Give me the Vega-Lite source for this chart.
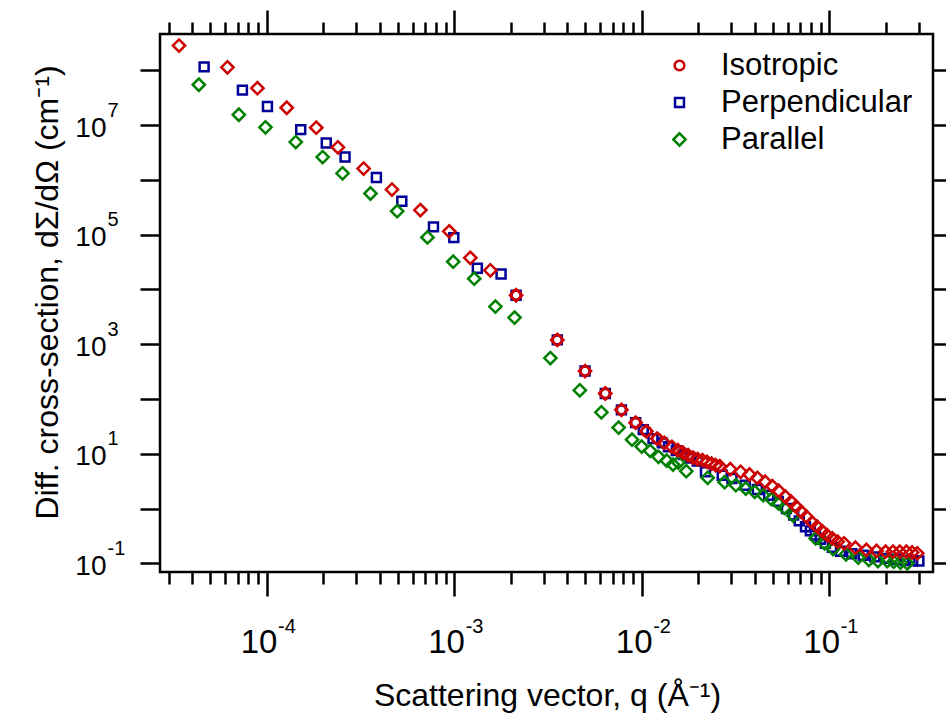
{
  "$schema": "https://vega.github.io/schema/vega-lite/v6.json",
  "width": 773,
  "height": 538,
  "autosize": {"type": "none"},
  "padding": {"left": 160, "top": 34, "right": 13, "bottom": 145},
  "background": "white",
  "config": {
    "view": {"stroke": "black", "strokeWidth": 2.5},
    "font": "Liberation Sans",
    "axis": {"grid": false, "domain": false, "tickColor": "black", "tickWidth": 2.5, "labelColor": "black", "labelFont": "Liberation Sans", "titleFont": "Liberation Sans", "titleColor": "black", "titleFontWeight": "normal", "labelOverlap": false, "labelBound": false, "labelFlush": false}
  },
  "datasets": {
    "main": [
      {"s":"Perpendicular","q":4.64e-5,"I":1.16e8},
      {"s":"Perpendicular","q":7.43e-5,"I":4.36e7},
      {"s":"Perpendicular","q":1.01e-4,"I":2.20e7},
      {"s":"Perpendicular","q":1.52e-4,"I":8.28e6},
      {"s":"Perpendicular","q":2.08e-4,"I":4.72e6},
      {"s":"Perpendicular","q":2.62e-4,"I":2.62e6},
      {"s":"Perpendicular","q":3.85e-4,"I":1.11e6},
      {"s":"Perpendicular","q":5.26e-4,"I":4.09e5},
      {"s":"Perpendicular","q":7.76e-4,"I":1.39e5},
      {"s":"Perpendicular","q":9.96e-4,"I":8.85e4},
      {"s":"Perpendicular","q":1.33e-3,"I":2.43e4},
      {"s":"Perpendicular","q":1.78e-3,"I":1.92e4},
      {"s":"Perpendicular","q":2.14e-3,"I":7840},
      {"s":"Perpendicular","q":3.55e-3,"I":1200},
      {"s":"Perpendicular","q":4.99e-3,"I":324},
      {"s":"Perpendicular","q":6.40e-3,"I":126},
      {"s":"Perpendicular","q":7.80e-3,"I":63.3},
      {"s":"Perpendicular","q":9.29e-3,"I":37.0},
      {"s":"Perpendicular","q":1.02e-2,"I":27.6},
      {"s":"Perpendicular","q":1.15e-2,"I":18.9},
      {"s":"Perpendicular","q":1.29e-2,"I":15.8},
      {"s":"Perpendicular","q":1.39e-2,"I":13.4},
      {"s":"Perpendicular","q":1.53e-2,"I":11.4},
      {"s":"Perpendicular","q":1.67e-2,"I":9.66},
      {"s":"Perpendicular","q":1.82e-2,"I":8.35},
      {"s":"Perpendicular","q":1.98e-2,"I":7.36},
      {"s":"Perpendicular","q":2.19e-2,"I":4.68},
      {"s":"Perpendicular","q":2.69e-2,"I":4.06},
      {"s":"Perpendicular","q":3.03e-2,"I":3.53},
      {"s":"Perpendicular","q":3.57e-2,"I":2.67},
      {"s":"Perpendicular","q":4.14e-2,"I":2.23},
      {"s":"Perpendicular","q":4.76e-2,"I":1.75},
      {"s":"Perpendicular","q":5.36e-2,"I":1.35},
      {"s":"Perpendicular","q":5.92e-2,"I":1.00},
      {"s":"Perpendicular","q":6.47e-2,"I":0.759},
      {"s":"Perpendicular","q":6.93e-2,"I":0.594},
      {"s":"Perpendicular","q":7.48e-2,"I":0.466},
      {"s":"Perpendicular","q":7.94e-2,"I":0.391},
      {"s":"Perpendicular","q":8.45e-2,"I":0.327},
      {"s":"Perpendicular","q":8.97e-2,"I":0.273},
      {"s":"Perpendicular","q":9.55e-2,"I":0.231},
      {"s":"Perpendicular","q":0.104,"I":0.195},
      {"s":"Perpendicular","q":0.115,"I":0.166},
      {"s":"Perpendicular","q":0.132,"I":0.149},
      {"s":"Perpendicular","q":0.152,"I":0.140},
      {"s":"Perpendicular","q":0.175,"I":0.131},
      {"s":"Perpendicular","q":0.200,"I":0.123},
      {"s":"Perpendicular","q":0.226,"I":0.118},
      {"s":"Perpendicular","q":0.255,"I":0.113},
      {"s":"Perpendicular","q":0.279,"I":0.111},
      {"s":"Perpendicular","q":0.301,"I":0.110},
      {"s":"Parallel","q":4.35e-5,"I":5.47e7},
      {"s":"Parallel","q":7.11e-5,"I":1.55e7},
      {"s":"Parallel","q":9.86e-5,"I":9.12e6},
      {"s":"Parallel","q":1.43e-4,"I":4.92e6},
      {"s":"Parallel","q":1.99e-4,"I":2.62e6},
      {"s":"Parallel","q":2.54e-4,"I":1.32e6},
      {"s":"Parallel","q":3.58e-4,"I":5.65e5},
      {"s":"Parallel","q":4.97e-4,"I":2.69e5},
      {"s":"Parallel","q":7.21e-4,"I":8.93e4},
      {"s":"Parallel","q":9.89e-4,"I":3.21e4},
      {"s":"Parallel","q":1.28e-3,"I":1.57e4},
      {"s":"Parallel","q":1.66e-3,"I":4860},
      {"s":"Parallel","q":2.10e-3,"I":3060},
      {"s":"Parallel","q":3.26e-3,"I":558},
      {"s":"Parallel","q":4.68e-3,"I":144},
      {"s":"Parallel","q":6.10e-3,"I":57.0},
      {"s":"Parallel","q":7.54e-3,"I":30.0},
      {"s":"Parallel","q":8.89e-3,"I":18.1},
      {"s":"Parallel","q":1.00e-2,"I":13.5},
      {"s":"Parallel","q":1.11e-2,"I":11.3},
      {"s":"Parallel","q":1.23e-2,"I":8.78},
      {"s":"Parallel","q":1.36e-2,"I":7.52},
      {"s":"Parallel","q":1.47e-2,"I":6.35},
      {"s":"Parallel","q":1.57e-2,"I":6.92},
      {"s":"Parallel","q":1.73e-2,"I":4.80},
      {"s":"Parallel","q":2.25e-2,"I":3.64},
      {"s":"Parallel","q":2.77e-2,"I":3.03},
      {"s":"Parallel","q":3.18e-2,"I":2.67},
      {"s":"Parallel","q":3.59e-2,"I":2.32},
      {"s":"Parallel","q":4.01e-2,"I":2.02},
      {"s":"Parallel","q":4.45e-2,"I":1.75},
      {"s":"Parallel","q":4.92e-2,"I":1.48},
      {"s":"Parallel","q":5.36e-2,"I":1.24},
      {"s":"Parallel","q":5.77e-2,"I":1.03},
      {"s":"Parallel","q":6.43e-2,"I":0.740},
      {"s":"Parallel","q":8.47e-2,"I":0.285},
      {"s":"Parallel","q":9.45e-2,"I":0.231},
      {"s":"Parallel","q":0.105,"I":0.182},
      {"s":"Parallel","q":0.123,"I":0.146},
      {"s":"Parallel","q":0.143,"I":0.127},
      {"s":"Parallel","q":0.163,"I":0.115},
      {"s":"Parallel","q":0.182,"I":0.110},
      {"s":"Parallel","q":0.204,"I":0.110},
      {"s":"Parallel","q":0.221,"I":0.107},
      {"s":"Parallel","q":0.240,"I":0.103},
      {"s":"Parallel","q":0.261,"I":0.100},
      {"s":"Isotropic","q":2.14e-3,"I":7840},
      {"s":"Isotropic","q":3.55e-3,"I":1200},
      {"s":"Isotropic","q":4.99e-3,"I":324},
      {"s":"Isotropic","q":6.40e-3,"I":126},
      {"s":"Isotropic","q":7.80e-3,"I":63.3},
      {"s":"Isotropic","q":9.29e-3,"I":37.0},
      {"s":"Isotropic","q":1.06e-2,"I":25.7},
      {"s":"Isotropic","q":1.21e-2,"I":18.9}
    ],
    "red": [
      {"q":3.41e-5,"I":2.84e8},
      {"q":6.18e-5,"I":1.14e8},
      {"q":8.93e-5,"I":4.74e7},
      {"q":1.28e-4,"I":2.08e7},
      {"q":1.84e-4,"I":9.0e6},
      {"q":2.40e-4,"I":3.94e6},
      {"q":3.29e-4,"I":1.61e6},
      {"q":4.66e-4,"I":6.68e5},
      {"q":6.61e-4,"I":2.81e5},
      {"q":9.42e-4,"I":1.15e5},
      {"q":1.22e-3,"I":3.79e4},
      {"q":1.56e-3,"I":2.24e4},
      {"q":2.14e-3,"I":7840},
      {"q":3.55e-3,"I":1200},
      {"q":4.99e-3,"I":324},
      {"q":6.40e-3,"I":126},
      {"q":7.80e-3,"I":63.3},
      {"q":9.29e-3,"I":37.0},
      {"q":1.06e-2,"I":25.7},
      {"q":1.21e-2,"I":18.9},
      {"q":1.32e-2,"I":15.8},
      {"q":1.45e-2,"I":13.4},
      {"q":1.56e-2,"I":11.6},
      {"q":1.66e-2,"I":10.5},
      {"q":1.77e-2,"I":9.39},
      {"q":1.88e-2,"I":8.53},
      {"q":1.99e-2,"I":7.94},
      {"q":2.11e-2,"I":7.62},
      {"q":2.23e-2,"I":7.12},
      {"q":2.36e-2,"I":6.62},
      {"q":2.48e-2,"I":6.18},
      {"q":2.61e-2,"I":5.92},
      {"q":2.97e-2,"I":5.22},
      {"q":3.37e-2,"I":4.68},
      {"q":3.76e-2,"I":4.18},
      {"q":4.14e-2,"I":3.64},
      {"q":4.55e-2,"I":3.08},
      {"q":4.98e-2,"I":2.56},
      {"q":5.38e-2,"I":2.11},
      {"q":5.85e-2,"I":1.64},
      {"q":6.27e-2,"I":1.33},
      {"q":6.67e-2,"I":1.08},
      {"q":7.10e-2,"I":0.875},
      {"q":7.57e-2,"I":0.710},
      {"q":8.11e-2,"I":0.558},
      {"q":8.63e-2,"I":0.466},
      {"q":9.18e-2,"I":0.388},
      {"q":9.75e-2,"I":0.327},
      {"q":0.104,"I":0.285},
      {"q":0.111,"I":0.248},
      {"q":0.120,"I":0.231},
      {"q":0.138,"I":0.193},
      {"q":0.158,"I":0.175},
      {"q":0.179,"I":0.168},
      {"q":0.200,"I":0.163},
      {"q":0.219,"I":0.163},
      {"q":0.238,"I":0.163},
      {"q":0.258,"I":0.163},
      {"q":0.277,"I":0.158},
      {"q":0.295,"I":0.152}
    ]
  },
  "resolve": {"axis": {"x": "independent", "y": "independent"}},
  "layer": [
    {
      "data": {"name": "main"},
      "mark": {"type": "point", "filled": false, "strokeWidth": 2.5, "opacity": 1},
      "encoding": {
        "x": {"field": "q", "type": "quantitative", "scale": {"type": "log", "domain": [2.7e-5, 0.358], "nice": false},
              "axis": {"orient": "bottom", "values": [1e-4, 1e-3, 1e-2, 1e-1], "tickSize": 24, "labels": false, "title": null}},
        "y": {"field": "I", "type": "quantitative", "scale": {"type": "log", "domain": [0.0693, 4.62e8], "nice": false},
              "axis": {"orient": "left", "values": [0.1, 1, 10, 100, 1000, 1e4, 1e5, 1e6, 1e7, 1e8], "tickSize": 20, "labels": false, "title": null}},
        "color": {"field": "s", "type": "nominal",
                  "scale": {"domain": ["Isotropic", "Perpendicular", "Parallel"], "range": ["#cc0000", "#000099", "#008000"]},
                  "legend": {"orient": "none", "legendX": 504, "legendY": 16, "title": null, "labelFontSize": 31, "labelFont": "Liberation Sans", "labelColor": "black", "symbolStrokeWidth": 2.5, "symbolSize": 70, "labelOffset": 26, "rowPadding": 5, "padding": 0, "labelLimit": 400}},
        "shape": {"field": "s", "type": "nominal",
                  "scale": {"domain": ["Isotropic", "Perpendicular", "Parallel"], "range": ["circle", "square", "diamond"]},
                  "legend": {"orient": "none", "legendX": 504, "legendY": 16, "title": null, "labelFontSize": 31, "labelFont": "Liberation Sans", "labelColor": "black", "symbolStrokeWidth": 2.5, "symbolSize": 70, "labelOffset": 26, "rowPadding": 5, "padding": 0, "labelLimit": 400}},
        "size": {"field": "s", "type": "nominal", "scale": {"type": "ordinal", "domain": ["Isotropic", "Perpendicular", "Parallel"], "range": [95, 80, 150]}, "legend": null}
      }
    },
    {
      "data": {"name": "red"},
      "mark": {"type": "point", "filled": false, "strokeWidth": 2.5, "shape": "diamond", "size": 150, "color": "#cc0000", "opacity": 1},
      "encoding": {
        "x": {"field": "q", "type": "quantitative", "scale": {"type": "log", "domain": [2.7e-5, 0.358], "nice": false},
              "axis": {"orient": "bottom", "values": [3e-5,4e-5,5e-5,6e-5,7e-5,8e-5,9e-5,2e-4,3e-4,4e-4,5e-4,6e-4,7e-4,8e-4,9e-4,2e-3,3e-3,4e-3,5e-3,6e-3,7e-3,8e-3,9e-3,2e-2,3e-2,4e-2,5e-2,6e-2,7e-2,8e-2,9e-2,0.2,0.3], "tickSize": 12, "labels": false, "title": null}},
        "y": {"field": "I", "type": "quantitative", "scale": {"type": "log", "domain": [0.0693, 4.62e8], "nice": false},
              "axis": {"orient": "right", "values": [0.1, 1, 10, 100, 1000, 1e4, 1e5, 1e6, 1e7, 1e8], "tickSize": 20, "labels": false, "title": null}}
      }
    },
    {
      "data": {"name": "red"},
      "mark": {"type": "point", "opacity": 0},
      "encoding": {
        "x": {"field": "q", "type": "quantitative", "scale": {"type": "log", "domain": [2.7e-5, 0.358], "nice": false},
              "axis": {"orient": "bottom", "values": [1e-4, 1e-3, 1e-2, 1e-1], "tickSize": 0, "tickOpacity": 0, "labelExpr": "'10'", "labelFontSize": 33, "labelPadding": 54, "labelOffset": -8, "labelAlign": "center", "labelBaseline": "top",
                       "title": "Scattering vector, q (Å⁻¹)", "titleFontSize": 32, "titleX": 387, "titleY": 133, "titleBaseline": "alphabetic", "titleAlign": "center"}},
        "y": {"field": "I", "type": "quantitative", "scale": {"type": "log", "domain": [0.0693, 4.62e8], "nice": false},
              "axis": {"orient": "left", "values": [0.1, 10, 1000, 1e5, 1e7], "tickSize": 0, "tickOpacity": 0, "labelExpr": "'10'", "labelFontSize": 28, "labelPadding": 54, "labelAlign": "right", "labelBaseline": "middle", "labelOffset": 3,
                       "title": "Diff. cross-section, dΣ/dΩ (cm⁻¹)", "titleFontSize": 32, "titleX": -103, "titleY": 258, "titleBaseline": "alphabetic", "titleAlign": "center", "titleAngle": -90}}
      }
    },
    {
      "data": {"name": "red"},
      "mark": {"type": "point", "opacity": 0},
      "encoding": {
        "x": {"field": "q", "type": "quantitative", "scale": {"type": "log", "domain": [2.7e-5, 0.358], "nice": false},
              "axis": {"orient": "bottom", "values": [1e-4, 1e-3, 1e-2, 1e-1], "tickSize": 0, "tickOpacity": 0, "labelExpr": "'' + round(log(datum.value)/LN10)", "labelFontSize": 20, "labelPadding": 44, "labelOffset": 11, "labelAlign": "left", "labelBaseline": "top", "title": null}},
        "y": {"field": "I", "type": "quantitative", "scale": {"type": "log", "domain": [0.0693, 4.62e8], "nice": false},
              "axis": {"orient": "left", "values": [0.1, 10, 1000, 1e5, 1e7], "tickSize": 0, "tickOpacity": 0, "labelExpr": "'' + round(log(datum.value)/LN10)", "labelFontSize": 20, "labelPadding": 53, "labelAlign": "left", "labelBaseline": "middle", "labelOffset": -15, "title": null}}
      }
    },
    {
      "data": {"name": "red"},
      "mark": {"type": "point", "opacity": 0},
      "encoding": {
        "x": {"field": "q", "type": "quantitative", "scale": {"type": "log", "domain": [2.7e-5, 0.358], "nice": false},
              "axis": {"orient": "top", "values": [1e-4, 1e-3, 1e-2, 1e-1], "tickSize": 24, "labels": false, "title": null}},
        "y": {"field": "I", "type": "quantitative", "scale": {"type": "log", "domain": [0.0693, 4.62e8], "nice": false}, "axis": null}
      }
    },
    {
      "data": {"name": "red"},
      "mark": {"type": "point", "opacity": 0},
      "encoding": {
        "x": {"field": "q", "type": "quantitative", "scale": {"type": "log", "domain": [2.7e-5, 0.358], "nice": false},
              "axis": {"orient": "top", "values": [3e-5,4e-5,5e-5,6e-5,7e-5,8e-5,9e-5,2e-4,3e-4,4e-4,5e-4,6e-4,7e-4,8e-4,9e-4,2e-3,3e-3,4e-3,5e-3,6e-3,7e-3,8e-3,9e-3,2e-2,3e-2,4e-2,5e-2,6e-2,7e-2,8e-2,9e-2,0.2,0.3], "tickSize": 12, "labels": false, "title": null}},
        "y": {"field": "I", "type": "quantitative", "scale": {"type": "log", "domain": [0.0693, 4.62e8], "nice": false}, "axis": null}
      }
    }
  ]
}
